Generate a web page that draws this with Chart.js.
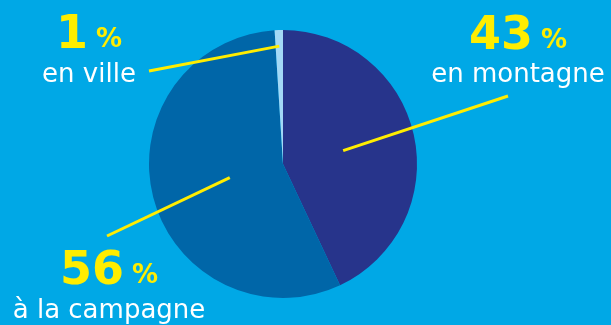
<!DOCTYPE html>
<html>
<head>
<meta charset="utf-8">
<script src="https://cdn.jsdelivr.net/npm/chart.js@4/dist/chart.umd.min.js"></script>
<style>
  html, body { margin: 0; padding: 0; background: #00a8e6; }
  canvas { display: block; }
</style>
</head>
<body>
<canvas id="pie" width="611" height="325"></canvas>
<script>
const categories = ['en montagne', 'à la campagne', 'en ville'];
const shares = [43, 56, 1];
const colors = ['#27348b', '#0066a8', '#a3d8f6'];

// where each label sits and how far inside the slice its line starts
const labelSpots = [
  { cx: 518, numBase: 49, subBase: 82, endX: 508, endY: 96, r: 0.46 },
  { cx: 109, numBase: 284, subBase: 318, endX: 107, endY: 236, r: 0.41 },
  { cx: 89, numBase: 48, subBase: 82, endX: 149, endY: 71, r: 0.88 }
];

const calloutPlugin = {
  id: 'callouts',
  afterDraw(chart) {
    const ctx = chart.ctx;
    const arcs = chart.getDatasetMeta(0).data;
    ctx.save();
    arcs.forEach((arc, i) => {
      const spot = labelSpots[i];
      const mid = (arc.startAngle + arc.endAngle) / 2;
      const sx = arc.x + Math.cos(mid) * arc.outerRadius * spot.r;
      const sy = arc.y + Math.sin(mid) * arc.outerRadius * spot.r;
      ctx.strokeStyle = '#ffed00';
      ctx.lineWidth = 3;
      ctx.beginPath();
      ctx.moveTo(sx, sy);
      ctx.lineTo(spot.endX, spot.endY);
      ctx.stroke();

      const num = String(shares[i]);
      ctx.fillStyle = '#ffed00';
      ctx.textBaseline = 'alphabetic';
      ctx.textAlign = 'left';
      ctx.font = 'bold 46px "DejaVu Sans"';
      const wNum = ctx.measureText(num).width;
      ctx.font = 'bold 26px "DejaVu Sans"';
      const wPct = ctx.measureText('%').width;
      const gap = 8;
      const x0 = spot.cx - (wNum + gap + wPct) / 2;
      ctx.font = 'bold 46px "DejaVu Sans"';
      ctx.fillText(num, x0, spot.numBase);
      ctx.font = 'bold 26px "DejaVu Sans"';
      ctx.fillText('%', x0 + wNum + gap, spot.numBase - 1);

      ctx.fillStyle = '#ffffff';
      ctx.textAlign = 'center';
      ctx.font = '26px "DejaVu Sans"';
      ctx.fillText(categories[i], spot.cx, spot.subBase);
    });
    ctx.restore();
  }
};

new Chart(document.getElementById('pie'), {
  type: 'pie',
  data: {
    labels: categories,
    datasets: [{
      data: shares,
      backgroundColor: colors,
      borderWidth: 0
    }]
  },
  options: {
    responsive: false,
    animation: false,
    layout: { padding: { left: 149, right: 194, top: 30, bottom: 27 } },
    plugins: { legend: { display: false }, tooltip: { enabled: false } }
  },
  plugins: [calloutPlugin]
});
</script>
</body>
</html>
